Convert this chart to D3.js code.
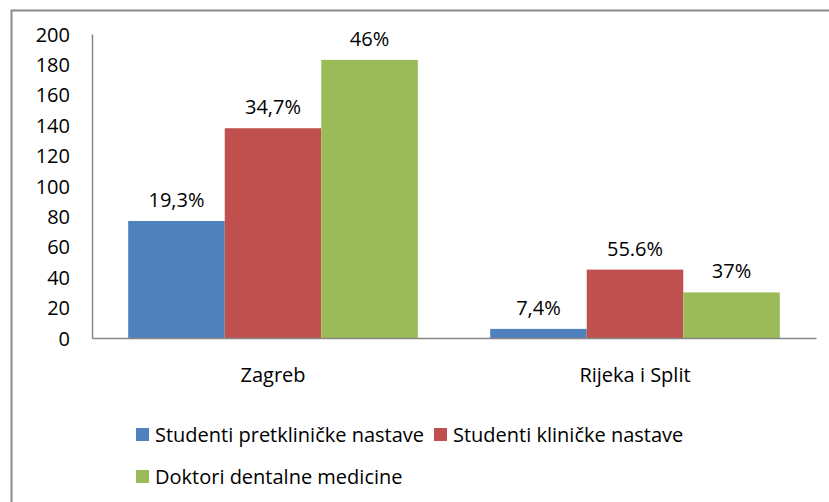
<!DOCTYPE html>
<html>
<head>
<meta charset="utf-8">
<script src="https://cdn.jsdelivr.net/npm/d3@7"></script>
<style>
  body { margin: 0; background: #fff; }
  text { font-family: "Open Sans", "Noto Sans", sans-serif; fill: #000; }
</style>
</head>
<body>
<svg id="svg" width="829" height="502"></svg>
<script>
const categories = ['Zagreb', 'Rijeka i Split'];
const seriesNames = ['Studenti pretkliničke nastave', 'Studenti kliničke nastave', 'Doktori dentalne medicine'];
const pretklinicki = [77, 6];
const klinicki = [138, 45];
const doktori = [183, 30];
const pretklinickiPct = ['19,3%', '7,4%'];
const klinickiPct = ['34,7%', '55.6%'];
const doktoriPct = ['46%', '37%'];
const yTicks = [0, 20, 40, 60, 80, 100, 120, 140, 160, 180, 200];
const colors = ['#4F81BD', '#C0504D', '#9BBB59'];

const svg = d3.select('#svg');
const fs = '20px';

// outer frame (runs off the right and bottom edge)
svg.append('rect')
  .attr('x', 11.5).attr('y', 10.5)
  .attr('width', 840).attr('height', 520)
  .attr('fill', 'none')
  .attr('stroke', '#8c8c8c')
  .attr('stroke-width', 2);

const plotLeft = 92, plotRight = 816, plotTop = 34, plotBottom = 338;

const x0 = d3.scaleBand()
  .domain(categories)
  .range([plotLeft, plotRight])
  .padding(0);

const x1 = d3.scaleBand()
  .domain(seriesNames)
  .range([x0.bandwidth() * 0.1, x0.bandwidth() * 0.9])
  .padding(0);

const y = d3.scaleLinear()
  .domain([0, 200])
  .range([plotBottom, plotTop]);

const values = [pretklinicki, klinicki, doktori];
const pcts = [pretklinickiPct, klinickiPct, doktoriPct];

const rows = [];
categories.forEach((c, i) => {
  seriesNames.forEach((s, j) => {
    rows.push({ cat: c, series: s, value: values[j][i], pct: pcts[j][i], color: colors[j] });
  });
});

// bars
svg.append('g')
  .selectAll('rect')
  .data(rows)
  .enter()
  .append('rect')
  .attr('x', d => x0(d.cat) + x1(d.series))
  .attr('y', d => y(d.value))
  .attr('width', x1.bandwidth())
  .attr('height', d => y(0) - y(d.value))
  .attr('fill', d => d.color);

// value labels
svg.append('g')
  .selectAll('text')
  .data(rows)
  .enter()
  .append('text')
  .attr('x', d => x0(d.cat) + x1(d.series) + x1.bandwidth() / 2)
  .attr('y', d => y(d.value) - 14)
  .attr('text-anchor', 'middle')
  .style('font-size', fs)
  .text(d => d.pct);

// y axis
const yAxis = svg.append('g')
  .attr('transform', 'translate(' + plotLeft + ',0)')
  .call(d3.axisLeft(y).tickValues(yTicks).tickSize(0).tickPadding(22));
yAxis.select('.domain').attr('stroke', '#868686').attr('stroke-width', 1.5);
yAxis.selectAll('text')
  .style('font-size', fs)
  .style('font-family', '"Open Sans", sans-serif')
  .attr('dy', '0.35em');

// x axis
const xAxis = svg.append('g')
  .attr('transform', 'translate(0,' + plotBottom + ')')
  .call(d3.axisBottom(x0).tickSize(0).tickPadding(30));
xAxis.select('.domain').attr('stroke', '#868686').attr('stroke-width', 1.5);
xAxis.selectAll('text')
  .style('font-size', fs)
  .style('font-family', '"Open Sans", sans-serif');

// legend
const legendPos = [[136, 435], [434, 435], [136, 477]];
const legend = svg.append('g')
  .selectAll('g')
  .data(seriesNames)
  .enter()
  .append('g')
  .attr('transform', (d, i) => 'translate(' + legendPos[i][0] + ',' + legendPos[i][1] + ')');
legend.append('rect')
  .attr('x', 0).attr('y', -7)
  .attr('width', 13).attr('height', 13)
  .attr('fill', (d, i) => colors[i]);
legend.append('text')
  .attr('x', 19)
  .attr('y', 0)
  .attr('dy', '0.35em')
  .style('font-size', fs)
  .text(d => d);
</script>
</body>
</html>
